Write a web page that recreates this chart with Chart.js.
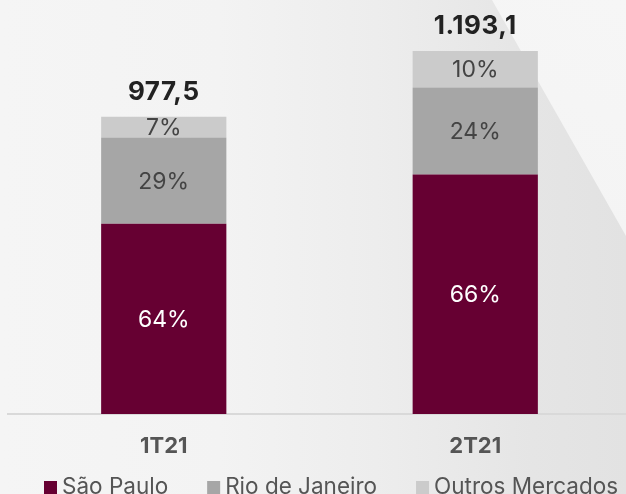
<!DOCTYPE html>
<html>
<head>
<meta charset="utf-8">
<script src="https://cdn.jsdelivr.net/npm/chart.js@4/dist/chart.umd.min.js"></script>
<style>
  html, body { margin: 0; padding: 0; width: 626px; height: 494px; overflow: hidden; }
  body {
    position: relative;
    background: linear-gradient(90deg, #f5f5f5 0%, #f3f3f3 35%, #ededed 60%, #e5e5e5 85%, #e2e2e2 100%);
  }
  #tri {
    position: absolute; left: 0; top: 0; width: 626px; height: 494px;
    background: linear-gradient(200deg, #f6f6f6 0%, #f0f0f0 100%);
    clip-path: polygon(492px 0px, 626px 0px, 626px 236px);
  }
  #wrap { position: absolute; left: 0; top: 0; width: 631px; height: 494px; }
</style>
</head>
<body>
<div id="tri"></div>
<div id="wrap"><canvas id="c" width="631" height="494"></canvas></div>
<script>
const categories = ['1T21', '2T21'];
const seriesNames = ['São Paulo', 'Rio de Janeiro', 'Outros Mercados'];
const saoPaulo = [625.6, 787.4];
const rioDeJaneiro = [283.5, 286.3];
const outrosMercados = [68.4, 119.4];
const pctSaoPaulo = ['64%', '66%'];
const pctRioDeJaneiro = ['29%', '24%'];
const pctOutros = ['7%', '10%'];
const totals = ['977,5', '1.193,1'];
const colors = ['#660032', '#a6a6a6', '#cbcbcb'];
const FONT = 'Inter, "Open Sans", sans-serif';

const labelPlugin = {
  id: 'labels',
  afterDatasetsDraw(chart) {
    const ctx = chart.ctx;
    const pcts = [pctSaoPaulo, pctRioDeJaneiro, pctOutros];
    const txtColors = ['#ffffff', '#444444', '#444444'];
    ctx.save();
    ctx.textAlign = 'center';
    ctx.textBaseline = 'middle';
    ctx.font = '400 23px ' + FONT;
    chart.data.datasets.forEach((ds, di) => {
      const meta = chart.getDatasetMeta(di);
      meta.data.forEach((bar, i) => {
        const p = bar.getProps(['x', 'y', 'base'], true);
        ctx.fillStyle = txtColors[di];
        ctx.fillText(pcts[di][i], p.x, (p.y + p.base) / 2 + 1);
      });
    });
    // totals above bars
    const topMeta = chart.getDatasetMeta(chart.data.datasets.length - 1);
    ctx.font = '700 26px ' + FONT;
    ctx.letterSpacing = '0.5px';
    ctx.fillStyle = '#222222';
    ctx.textBaseline = 'alphabetic';
    topMeta.data.forEach((bar, i) => {
      const p = bar.getProps(['x', 'y'], true);
      ctx.fillText(totals[i], p.x, p.y - 17);
    });
    ctx.letterSpacing = '0px';
    // legend
    ctx.font = '400 22.5px ' + FONT;
    ctx.textAlign = 'left';
    let x = 44;
    chart.data.datasets.forEach((ds, di) => {
      ctx.fillStyle = ds.backgroundColor;
      ctx.fillRect(x, 481, 13, 13);
      ctx.fillStyle = '#555555';
      ctx.fillText(ds.label, x + 18, 493.5);
      x += 18 + ctx.measureText(ds.label).width + 39;
    });
    ctx.restore();
  }
};

new Chart(document.getElementById('c'), {
  type: 'bar',
  data: {
    labels: categories,
    datasets: [
      { label: seriesNames[0], data: saoPaulo, backgroundColor: colors[0] },
      { label: seriesNames[1], data: rioDeJaneiro, backgroundColor: colors[1] },
      { label: seriesNames[2], data: outrosMercados, backgroundColor: colors[2] }
    ]
  },
  options: {
    responsive: false,
    animation: false,
    layout: { padding: { left: 8, right: 0, top: 0, bottom: 0 } },
    datasets: { bar: { categoryPercentage: 1, barPercentage: 0.402, borderWidth: 0 } },
    plugins: { legend: { display: false }, tooltip: { enabled: false } },
    scales: {
      x: {
        stacked: true,
        grid: { display: false, drawTicks: false },
        border: { display: true, color: '#d9d9d9', width: 2 },
        ticks: { color: '#555555', font: { family: FONT, size: 22, weight: '700' }, padding: 19 },
        afterFit: s => { s.height = 80; }
      },
      y: { stacked: true, display: false, min: 0, max: 1361 }
    }
  },
  plugins: [labelPlugin]
});
</script>
</body>
</html>
